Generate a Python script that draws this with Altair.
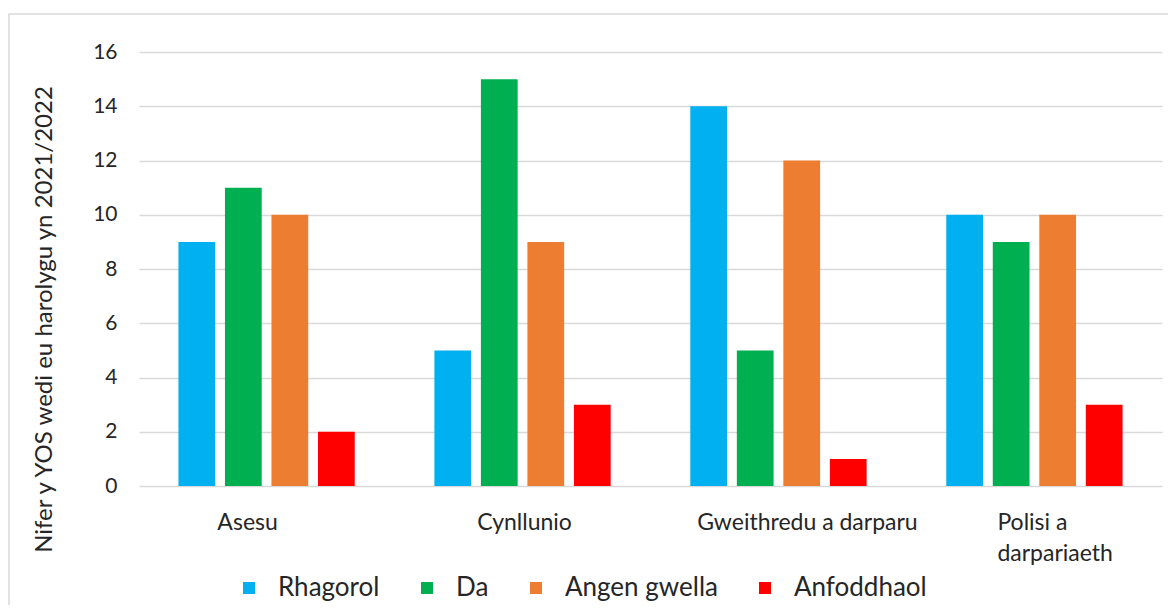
import altair as alt
import pandas as pd

categories = ["Asesu", "Cynllunio", "Gweithredu a darparu", "Polisi a darpariaeth"]
series = ["Rhagorol", "Da", "Angen gwella", "Anfoddhaol"]
colors = ["#00B0F0", "#00B050", "#ED7D31", "#FF0000"]

rhagorol = [9, 5, 14, 10]
da = [11, 15, 5, 9]
angen_gwella = [10, 9, 12, 10]
anfoddhaol = [2, 3, 1, 3]

y_ticks = [0, 2, 4, 6, 8, 10, 12, 14, 16]
y_title = "Nifer y YOS wedi eu harolygu yn 2021/2022"

rows = []
for s, vals in zip(series, [rhagorol, da, angen_gwella, anfoddhaol]):
    for c, v in zip(categories, vals):
        rows.append({"Categori": c, "Cyfres": s, "Nifer": v})
df = pd.DataFrame(rows)

FONT = "Lato"
TXT = "#262626"
GRID = "#d9d9d9"

label_offset = {
    "condition": [
        {"test": "datum.value == 'Asesu'", "value": -19},
        {"test": "datum.value == 'Cynllunio'", "value": 2},
        {"test": "datum.value == 'Gweithredu a darparu'", "value": 29},
        {"test": "datum.value == 'Polisi a darpariaeth'", "value": -37},
    ],
    "value": 0,
}
label_align = {
    "condition": {"test": "datum.value == 'Polisi a darpariaeth'", "value": "left"},
    "value": "center",
}

bars = alt.Chart(df).mark_bar().encode(
    x=alt.X(
        "Categori:N",
        sort=categories,
        scale=alt.Scale(paddingInner=0.273, paddingOuter=0.135),
        axis=alt.Axis(
            title=None,
            labelAngle=0,
            domain=False,
            ticks=False,
            labelFont=FONT,
            labelFontSize=23,
            labelColor=TXT,
            labelPadding=25,
            labelBaseline="top",
            labelLineHeight=31,
            labelLimit=0,
            labelAlign=label_align,
            labelOffset=label_offset,
            labelExpr="datum.value == 'Polisi a darpariaeth' ? ['Polisi a', 'darpariaeth'] : datum.value",
        ),
    ),
    xOffset=alt.XOffset(
        "Cyfres:N",
        sort=series,
        scale=alt.Scale(paddingInner=0.21, paddingOuter=0.105),
    ),
    y=alt.Y(
        "Nifer:Q",
        scale=alt.Scale(domain=[0, 16], nice=False),
        axis=alt.Axis(
            values=y_ticks,
            title=y_title,
            domain=False,
            ticks=False,
            grid=True,
            gridColor=GRID,
            gridWidth=1.5,
            labelFont=FONT,
            labelFontSize=21,
            labelColor=TXT,
            labelPadding=22,
            titleFont=FONT,
            titleFontSize=24,
            titleFontWeight="normal",
            titleColor=TXT,
            titleAngle=270,
            titleAlign="center",
            titleBaseline="middle",
            titleX=-95,
            titleY=267,
        ),
    ),
    color=alt.Color(
        "Cyfres:N",
        sort=series,
        scale=alt.Scale(domain=series, range=colors),
        legend=alt.Legend(
            title=None,
            orient="none",
            direction="horizontal",
            legendX=97,
            legendY=523,
            symbolType="square",
            symbolSize=144,
            symbolStrokeWidth=0,
            labelFont=FONT,
            labelFontSize=26,
            labelColor=TXT,
            labelOffset=16,
            labelLimit=0,
            columnPadding=34,
            padding=0,
        ),
    ),
)

frame = alt.Chart(pd.DataFrame({"k": [0]})).mark_rect(
    fill=None, stroke=GRID, strokeWidth=1.5
).encode(
    x=alt.value(-130), x2=alt.value(1200), y=alt.value(-38), y2=alt.value(700)
)

chart = alt.layer(frame, bars).properties(
    width=1023,
    height=434,
    autosize=alt.AutoSizeParams(type="none"),
    padding={"left": 131, "top": 44, "right": 6, "bottom": 119},
).configure_view(stroke=None)

chart.save("out.html", embed_options={"renderer": "svg", "actions": False})
